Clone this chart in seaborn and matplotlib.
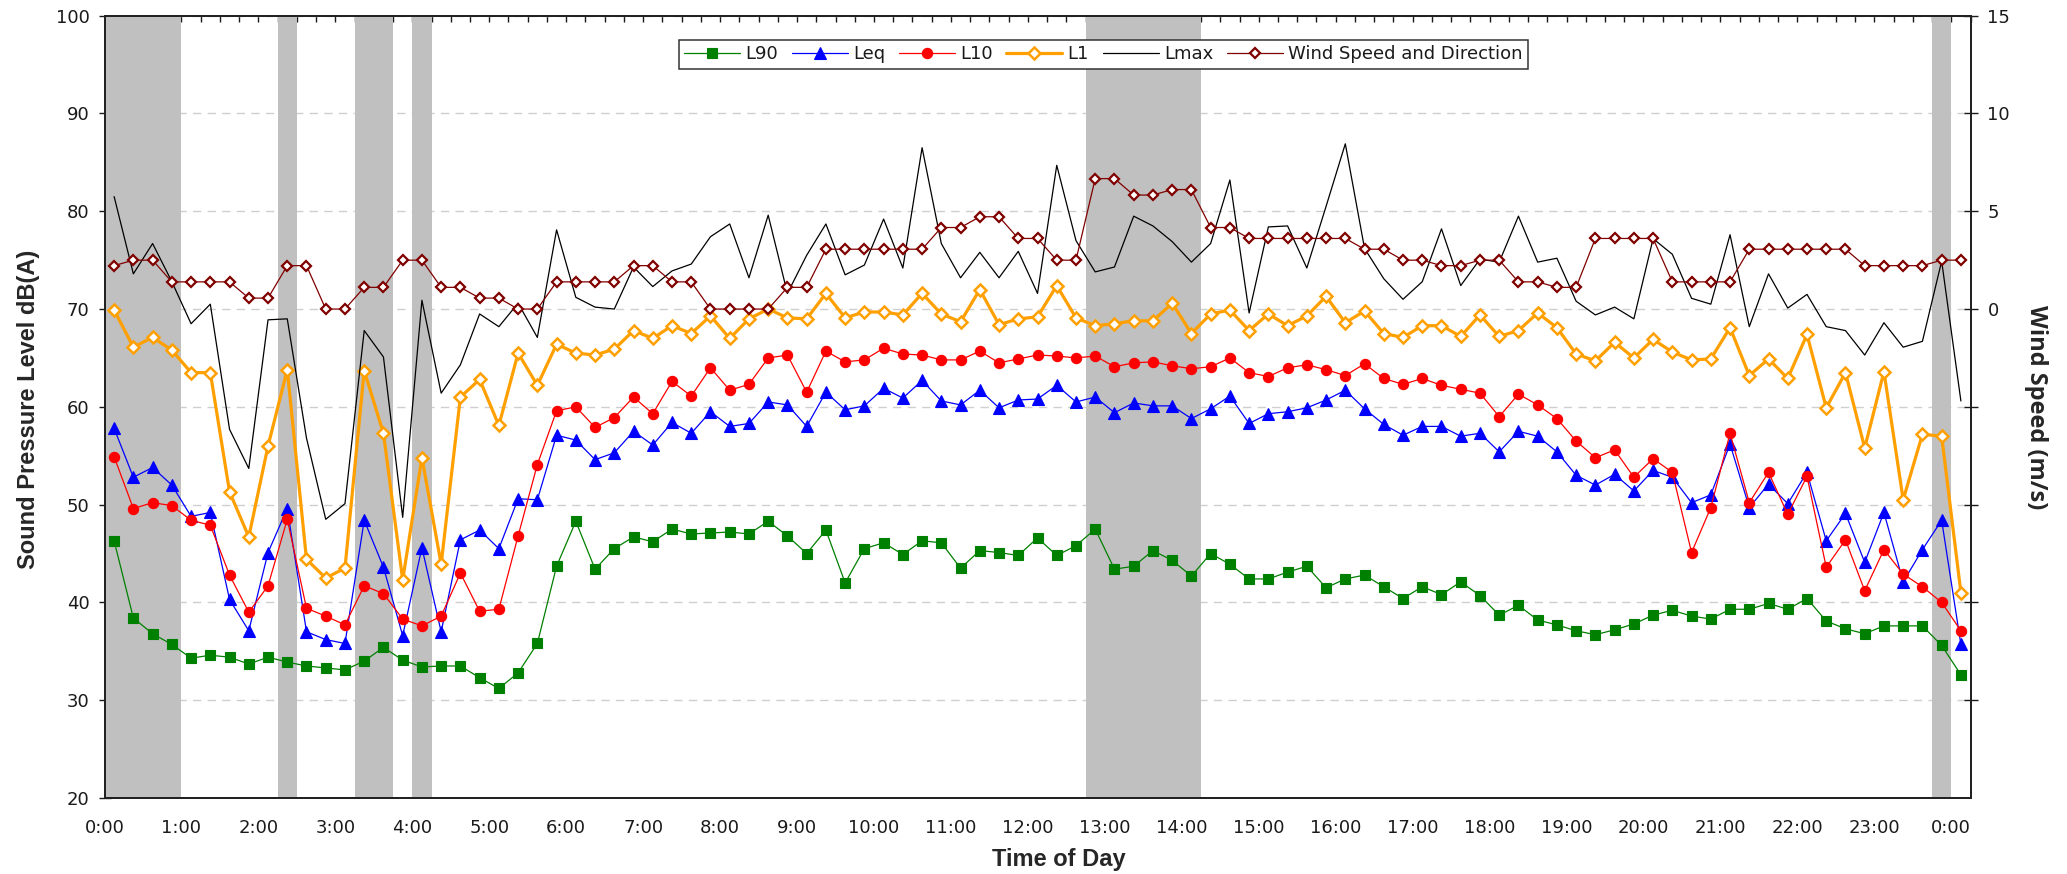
import numpy as np
import pandas as pd
import matplotlib
matplotlib.use("Agg")
import matplotlib.pyplot as plt
from matplotlib.ticker import MultipleLocator, FixedLocator
import seaborn as sns

# 15-minute logging intervals, plotted at the interval midpoints (hours)
hours = 0.125 + 0.25 * np.arange(97)

l90 = [46.3, 38.4, 36.8, 35.7, 34.3, 34.6, 34.4, 33.7, 34.4, 33.9, 33.5, 33.3, 33.1, 34.0, 35.4, 34.1, 33.4,
       33.5, 33.5, 32.3, 31.2, 32.8, 35.8, 43.7, 48.3, 43.4, 45.5, 46.7, 46.2, 47.5, 47.0, 47.1, 47.2,
       47.0, 48.3, 46.8, 45.0, 47.4, 42.0, 45.5, 46.1, 44.9, 46.3, 46.1, 43.5, 45.3, 45.1, 44.8, 46.6,
       44.8, 45.8, 47.5, 43.4, 43.7, 45.3, 44.3, 42.7, 45.0, 43.9, 42.4, 42.4, 43.1, 43.7, 41.5, 42.4,
       42.8, 41.6, 40.4, 41.6, 40.8, 42.1, 40.7, 38.7, 39.7, 38.2, 37.7, 37.1, 36.7, 37.2, 37.8, 38.7,
       39.2, 38.6, 38.3, 39.3, 39.3, 39.9, 39.3, 40.4, 38.1, 37.3, 36.8, 37.6, 37.6, 37.6, 35.6, 32.6]

leq = [57.8, 52.8, 53.8, 52.0, 48.8, 49.2, 40.3, 37.1, 45.1, 49.6, 37.0, 36.2, 35.8, 48.4, 43.6, 36.6, 45.6,
       37.0, 46.4, 47.4, 45.5, 50.6, 50.5, 57.1, 56.6, 54.6, 55.3, 57.5, 56.1, 58.4, 57.3, 59.5, 58.0,
       58.3, 60.5, 60.2, 58.0, 61.5, 59.7, 60.1, 61.9, 60.9, 62.7, 60.6, 60.2, 61.7, 59.9, 60.7, 60.8,
       62.2, 60.5, 61.0, 59.4, 60.4, 60.1, 60.1, 58.8, 59.8, 61.1, 58.3, 59.3, 59.5, 59.9, 60.7, 61.7,
       59.8, 58.2, 57.1, 58.0, 58.0, 57.0, 57.3, 55.4, 57.5, 57.0, 55.4, 53.0, 52.0, 53.1, 51.4, 53.5,
       52.8, 50.2, 51.0, 56.2, 49.7, 52.1, 50.1, 53.3, 46.3, 49.1, 44.1, 49.2, 42.1, 45.4, 48.4, 35.7]

l10 = [54.9, 49.6, 50.2, 49.9, 48.4, 47.9, 42.8, 39.0, 41.7, 48.5, 39.4, 38.6, 37.7, 41.7, 40.9, 38.3, 37.6,
       38.6, 43.0, 39.1, 39.3, 46.8, 54.1, 59.6, 60.0, 57.9, 58.9, 61.0, 59.3, 62.6, 61.1, 64.0, 61.7,
       62.3, 65.0, 65.3, 61.5, 65.7, 64.6, 64.8, 66.0, 65.4, 65.3, 64.8, 64.8, 65.7, 64.5, 64.9, 65.3,
       65.2, 65.0, 65.2, 64.1, 64.5, 64.6, 64.2, 63.9, 64.1, 65.0, 63.5, 63.1, 64.0, 64.3, 63.8, 63.2,
       64.4, 62.9, 62.3, 62.9, 62.2, 61.8, 61.4, 59.0, 61.3, 60.2, 58.8, 56.5, 54.8, 55.6, 52.8, 54.7,
       53.3, 45.1, 49.7, 57.3, 50.2, 53.3, 49.0, 52.9, 43.6, 46.4, 41.2, 45.4, 42.9, 41.6, 40.0, 37.1]

l1 = [69.9, 66.1, 67.1, 65.8, 63.5, 63.5, 51.3, 46.7, 56.0, 63.8, 44.4, 42.5, 43.5, 63.7, 57.3, 42.3, 54.8,
      43.9, 61.0, 62.8, 58.1, 65.5, 62.2, 66.4, 65.5, 65.3, 65.9, 67.8, 67.0, 68.3, 67.5, 69.3, 67.0,
      69.0, 70.0, 69.1, 69.0, 71.6, 69.1, 69.7, 69.7, 69.4, 71.6, 69.5, 68.7, 72.0, 68.4, 69.0, 69.2,
      72.4, 69.1, 68.3, 68.5, 68.8, 68.8, 70.6, 67.5, 69.5, 69.9, 67.8, 69.5, 68.3, 69.3, 71.3, 68.6,
      69.8, 67.5, 67.1, 68.3, 68.3, 67.2, 69.4, 67.2, 67.8, 69.6, 68.1, 65.4, 64.7, 66.6, 65.0, 66.9,
      65.6, 64.8, 64.9, 68.1, 63.2, 64.9, 62.9, 67.4, 59.9, 63.5, 55.8, 63.6, 50.5, 57.2, 57.0, 41.0]

lmax = [81.5, 73.6, 76.7, 72.8, 68.5, 70.5, 57.7, 53.7, 68.9, 69.0, 56.8, 48.5, 50.1, 67.8, 65.1, 48.7, 70.9,
        61.4, 64.3, 69.5, 68.2, 70.6, 67.1, 78.1, 71.2, 70.2, 70.0, 74.3, 72.3, 73.9, 74.6, 77.4, 78.7,
        73.2, 79.6, 71.6, 75.5, 78.7, 73.5, 74.5, 79.2, 74.2, 86.5, 76.7, 73.2, 75.8, 73.2, 75.9, 71.6,
        84.7, 77.0, 73.8, 74.3, 79.5, 78.5, 76.9, 74.8, 76.7, 83.2, 69.6, 78.4, 78.5, 74.2, 80.5, 86.9,
        76.2, 73.1, 71.0, 72.8, 78.2, 72.4, 75.1, 74.8, 79.5, 74.8, 75.2, 70.8, 69.4, 70.2, 69.0, 77.2,
        75.6, 71.1, 70.5, 77.6, 68.2, 73.6, 70.1, 71.5, 68.2, 67.8, 65.3, 68.6, 66.1, 66.7, 74.9, 60.6]

wind = [2.22, 2.50, 2.50, 1.39, 1.39, 1.39, 1.39, 0.56, 0.56, 2.22, 2.22, 0.00, 0.00, 1.11, 1.11, 2.50, 2.50,
        1.11, 1.11, 0.56, 0.56, 0.00, 0.00, 1.39, 1.39, 1.39, 1.39, 2.22, 2.22, 1.39, 1.39, 0.00, 0.00,
        0.00, 0.00, 1.11, 1.11, 3.06, 3.06, 3.06, 3.06, 3.06, 3.06, 4.17, 4.17, 4.72, 4.72, 3.61, 3.61,
        2.50, 2.50, 6.67, 6.67, 5.83, 5.83, 6.11, 6.11, 4.17, 4.17, 3.61, 3.61, 3.61, 3.61, 3.61, 3.61,
        3.06, 3.06, 2.50, 2.50, 2.22, 2.22, 2.50, 2.50, 1.39, 1.39, 1.11, 1.11, 3.61, 3.61, 3.61, 3.61,
        1.39, 1.39, 1.39, 1.39, 3.06, 3.06, 3.06, 3.06, 3.06, 3.06, 2.22, 2.22, 2.22, 2.22, 2.50, 2.50]

# periods excluded from the assessment (start, end in hours)
excluded = [(0.0, 1.0), (2.25, 2.5), (3.25, 3.75), (4.0, 4.25), (12.75, 14.25), (23.75, 24.0)]

hour_labels = [f"{h % 24}:00" for h in range(25)]

df = pd.DataFrame({"hour": hours, "L90": l90, "Leq": leq, "L10": l10,
                   "L1": l1, "Lmax": lmax, "Wind": wind})

sns.set_style("white")
plt.rcParams["font.family"] = ["DejaVu Sans"]
plt.rcParams["text.color"] = "#1a1a1a"
plt.rcParams["xtick.color"] = "#1a1a1a"
plt.rcParams["ytick.color"] = "#1a1a1a"

fig = plt.figure(figsize=(20.67, 8.74), dpi=100)
fig.patch.set_facecolor("white")
ax = fig.add_axes([0.05056, 0.08696, 0.90276, 0.89508])
ax2 = ax.twinx()

for start, end in excluded:
    ax.axvspan(start, end, color="#c0c0c0", lw=0, zorder=1)

styles = [
    ("L90", dict(color="#008000", marker="s", markersize=6.8, markerfacecolor="#008000",
                 markeredgecolor="#008000", markeredgewidth=0.8, linewidth=0.9)),
    ("Leq", dict(color="#0000ff", marker="^", markersize=8.0, markerfacecolor="#0000ff",
                 markeredgecolor="#0000ff", markeredgewidth=0.8, linewidth=0.9)),
    ("L10", dict(color="#ff0000", marker="o", markersize=7.4, markerfacecolor="#ff0000",
                 markeredgecolor="#ff0000", markeredgewidth=0.8, linewidth=0.9)),
    ("L1", dict(color="#ffa000", marker="D", markersize=6.3, markerfacecolor="white",
                markeredgecolor="#ffa000", markeredgewidth=1.8, linewidth=2.3)),
    ("Lmax", dict(color="black", linewidth=0.9)),
]
for i, (name, kw) in enumerate(styles):
    sns.lineplot(data=df, x="hour", y=name, ax=ax, label=name, legend=False,
                 sort=False, zorder=3 + i, **kw)

sns.lineplot(data=df, x="hour", y="Wind", ax=ax2, label="Wind Speed and Direction",
             legend=False, sort=False, color="#800000", marker="D", markersize=4.6,
             markerfacecolor="white", markeredgecolor="#800000", markeredgewidth=1.6,
             linewidth=0.9, zorder=5)

# x axis: hourly labels, 15-minute ticks
ax.set_xlim(0, 24.25)
ax.xaxis.set_major_locator(FixedLocator(np.arange(25)))
ax.set_xticklabels(hour_labels)
ax.xaxis.set_minor_locator(MultipleLocator(0.25))
ax.tick_params(axis="x", which="both", direction="out", length=4.5, width=1.0,
               pad=10.5, labelsize=13, top=False)
secx = ax.secondary_xaxis("top")
secx.set_xticks(np.arange(0, 24.26, 0.25))
secx.tick_params(axis="x", direction="in", length=4.5, width=1.0, labeltop=False)
secx.spines["top"].set_linewidth(1.4)
secx.spines["top"].set_color("#444444")

# left axis: sound level
ax.set_ylim(20, 100)
ax.yaxis.set_major_locator(MultipleLocator(10))
ax.yaxis.set_minor_locator(MultipleLocator(1))
ax.tick_params(axis="y", which="major", direction="inout", length=8, width=1.0,
               pad=6.8, labelsize=13)
ax.tick_params(axis="y", which="minor", direction="in", length=4, width=1.0)
ax.grid(axis="y", which="major", linestyle=(0, (6, 4.5)), color="#cfcfcf", linewidth=1.0)
ax.set_axisbelow(True)

# right axis: wind speed
ax2.set_ylim(-25, 15)
ax2.yaxis.set_major_locator(FixedLocator([-20, -15, -10, -5, 0, 5, 10, 15]))
ax2.set_yticklabels(["", "", "", "", "0", "5", "10", "15"])
ax2.tick_params(axis="y", which="major", direction="inout", length=10, width=1.0,
                pad=7.2, labelsize=13)
ax2.grid(False)

for a in (ax, ax2):
    for side in ("left", "right", "bottom", "top"):
        a.spines[side].set_linewidth(1.4)
        a.spines[side].set_color("#222222")

label_font = dict(fontfamily=["Liberation Sans", "DejaVu Sans"], fontweight="bold", fontsize=17)
ax.set_xlabel("Time of Day", va="center", **label_font)
ax.xaxis.set_label_coords(0.5115, -0.078)
ax.set_ylabel("Sound Pressure Level dB(A)", va="center", **label_font)
ax.yaxis.set_label_coords(-0.0405, 0.497)
ax2.set_ylabel("Wind Speed (m/s)", rotation=270, va="center",
               fontfamily=["Open Sans", "DejaVu Sans"], fontweight="bold", fontsize=17)
ax2.yaxis.set_label_coords(1.0351, 0.5)

h1, lab1 = ax.get_legend_handles_labels()
h2, lab2 = ax2.get_legend_handles_labels()
leg = ax2.legend(h1 + h2, lab1 + lab2, loc="upper center", bbox_to_anchor=(0.5353, 0.9804),
                 ncol=6, frameon=True, fancybox=False, framealpha=1, edgecolor="#333333",
                 fontsize=13, handlelength=3.1, handletextpad=0.3, columnspacing=0.75,
                 borderpad=0.3, numpoints=1)
leg.get_frame().set_linewidth(1.1)
leg.set_zorder(20)

fig.savefig("out.png", dpi=100, facecolor="white")
